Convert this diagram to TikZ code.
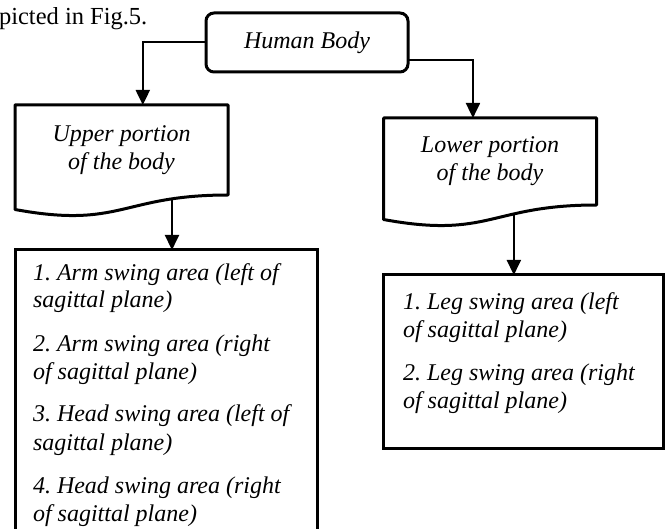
\documentclass[tikz,border=0pt]{standalone}
\usepackage{fontspec}
\setmainfont{Liberation Serif}
\usetikzlibrary{arrows.meta, calc}

\begin{document}
\frenchspacing
\begin{tikzpicture}[
    x=1pt, y=-1pt,
    every node/.style={
        font=\fontsize{24}{28}\selectfont\itshape,
        inner sep=0pt,
        outer sep=0pt,
    },
    rootbox/.style={
        draw,
        line width=3pt,
        rounded corners=8pt,
        minimum width=202pt,
        minimum height=59pt,
    },
    docbox/.style={
        minimum width=213pt,
        align=center,
    },
    outline/.style={
        line width=3pt,
        line join=round,
    },
    listbox/.style={
        draw,
        line width=3pt,
        anchor=north west,
        align=flush left,
        text height=18pt,
    },
    flow/.style={
        line width=2pt,
        -{Triangle[length=15pt, width=14pt]},
    }
]
    \useasboundingbox (0,0) rectangle (669,529);

    % Caption fragment
    \node[font=\fontsize{24.5}{28}\selectfont, anchor=base west] (fig) at (-1,25) {picted in Fig.5.};

    % Root
    \node[rootbox] (root) at (307,42.5) {Human Body};

    % Body portions
    \node[docbox, minimum height=90pt] (upper) at (121.5,150) {Upper portion\\of the body};
    \node[docbox, minimum height=87pt] (lower) at (490,161.5) {Lower portion\\of the body};

    \foreach \n in {upper, lower}
        \draw[outline] (\n.north west) -- (\n.north east) -- (\n.south east)
            .. controls (\n.south) and ($(\n.south)+(0,34)$) .. ($(\n.south west)+(0,14.5)$) -- cycle;

    % Swing areas
    \node[listbox, text width=266pt, inner xsep=18pt, inner ysep=12pt, text depth=248pt] (upperlist) at (15,250) {%
        1. Arm swing area (left of\\sagittal plane)\\[15pt]
        2. Arm swing area (right\\of sagittal plane)\\[15pt]
        3. Head swing area (left of\\sagittal plane)\\[15pt]
        4. Head swing area (right\\of sagittal plane)};
    \node[listbox, text width=240pt, inner xsep=20pt, inner ysep=16pt, text depth=123pt] (lowerlist) at (383,275) {%
        1. Leg swing area (left\\of sagittal plane)\\[15pt]
        2. Leg swing area (right\\of sagittal plane)};

    % Arrows
    \draw[flow] (root.west) -| ($(upper.north west)!0.6!(upper.north east)$);
    \draw[flow] ($(root.north east)!0.8!(root.south east)$) -| ($(lower.north west)!0.42!(lower.north east)$);
    \draw[flow] ($(upper.south west)!0.737!(upper.south east)+(0,5)$) coordinate (ua) -- (ua |- upperlist.north);
    \draw[flow] ($(lower.south west)!0.612!(lower.south east)+(0,9)$) coordinate (la) -- (la |- lowerlist.north);
\end{tikzpicture}
\end{document}
